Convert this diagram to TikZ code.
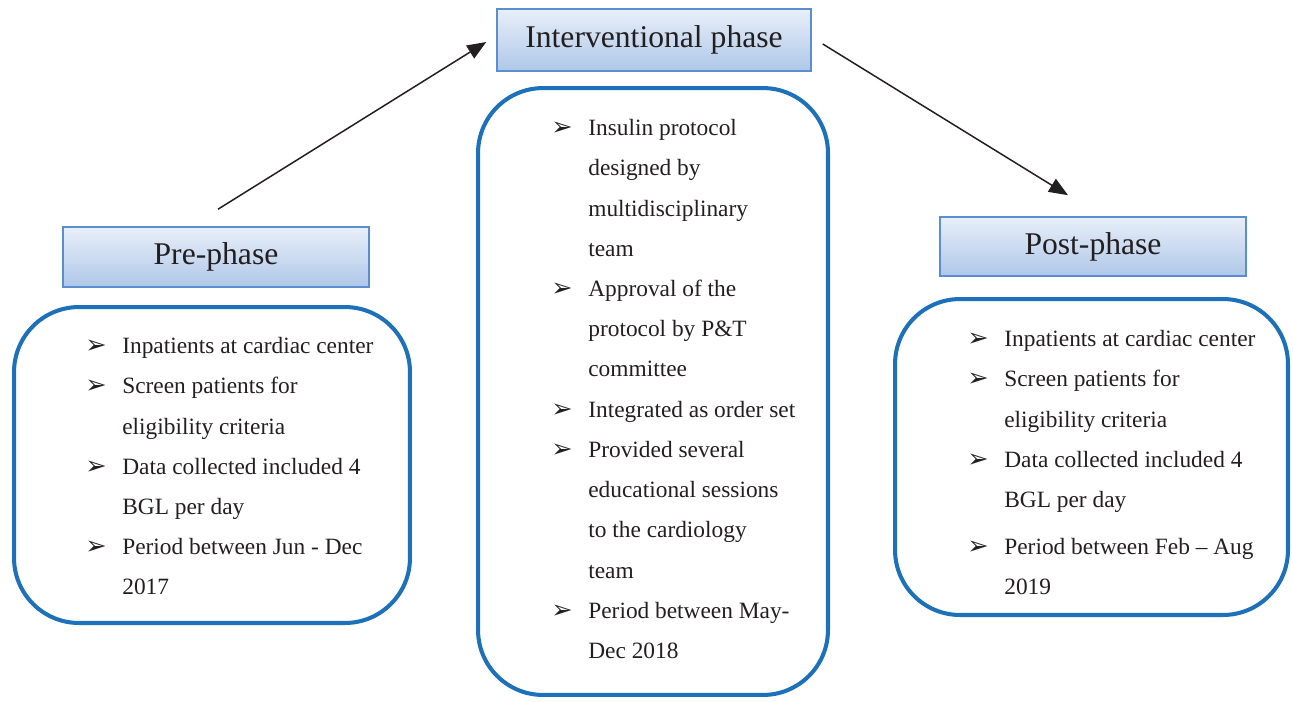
\documentclass[tikz,border=0pt]{standalone}
\usepackage{fontspec}
\setmainfont{Liberation Serif}
\newfontfamily\symfont{DejaVu Sans}
\usetikzlibrary{arrows.meta,calc}
\definecolor{boxblue}{HTML}{1C71BA}
\definecolor{titleline}{HTML}{5A8ED0}
\definecolor{titletop}{HTML}{E8EFF9}
\definecolor{titlebot}{HTML}{AFC7E8}
\definecolor{ink}{HTML}{231F20}
\newcommand{\itm}{\makebox[0.74cm][l]{\symfont\fontsize{14.5}{14.5}\selectfont ➢}}
\newcommand{\cnt}{\hspace*{0.74cm}}
\tikzset{
  phase/.style={draw=titleline, line width=0.9pt, top color=titletop, bottom color=titlebot,
    text=ink, font=\fontsize{18}{20}\selectfont, inner sep=0pt},
  frame/.style={draw=boxblue, line width=2.3pt, rounded corners=1.3cm, inner sep=0pt},
  items/.style={anchor=north west, align=left, inner sep=0pt, text=ink,
    font=\fontsize{13.3}{22.9}\selectfont},
  arr/.style={-{Triangle[length=0.38cm,width=0.3cm]}, line width=0.85pt, draw=ink}
}
\begin{document}
\begin{tikzpicture}[x=0.02cm,y=-0.02cm]
\useasboundingbox (0,0) rectangle (1293,701);
% the three phases
\node[phase, minimum width=6.12cm, minimum height=1.2cm] (pre) at (216,257) {Pre-phase};
\node[phase, minimum width=6.28cm, minimum height=1.24cm] (mid) at (654,40) {Interventional phase};
\node[phase, minimum width=6.12cm, minimum height=1.18cm] (post) at (1093,246.5) {Post-phase};
% rounded frames
\node[frame, minimum width=7.92cm, minimum height=6.32cm] (preframe) at (212,465) {};
\node[frame, minimum width=7.0cm, minimum height=12.14cm] (midframe) at (653,391.5) {};
\node[frame, minimum width=7.86cm, minimum height=6.32cm] (postframe) at (1091.5,457) {};
% lists
\node[items] (prelist) at (85,337) {\itm Inpatients at cardiac center\\
  \itm Screen patients for\\
  \cnt eligibility criteria\\
  \itm Data collected included 4\\
  \cnt BGL per day\\
  \itm Period between Jun - Dec\\
  \cnt 2017};
\node[items] (midlist) at (551,119) {\itm Insulin protocol\\
  \cnt designed by\\
  \cnt multidisciplinary\\
  \cnt team\\
  \itm Approval of the\\
  \cnt protocol by P\&T\\
  \cnt committee\\
  \itm Integrated as order set\\
  \itm Provided several\\
  \cnt educational sessions\\
  \cnt to the cardiology\\
  \cnt team\\
  \itm Period between May-\\
  \cnt Dec 2018};
\node[items] (postlist) at (967,330) {\itm Inpatients at cardiac center\\
  \itm Screen patients for\\
  \cnt eligibility criteria\\
  \itm Data collected included 4\\
  \cnt BGL per day\\[0.14cm]
  \itm Period between Feb – Aug\\
  \cnt 2019};
% arrows
\draw[arr] ($(pre.north)+(2,-17)$) -- ($(mid.west)+(-10,2)$);
\draw[arr] ($(mid.east)+(11,4)$) -- ($(post.north)+(-25,-21)$);
\end{tikzpicture}
\end{document}
